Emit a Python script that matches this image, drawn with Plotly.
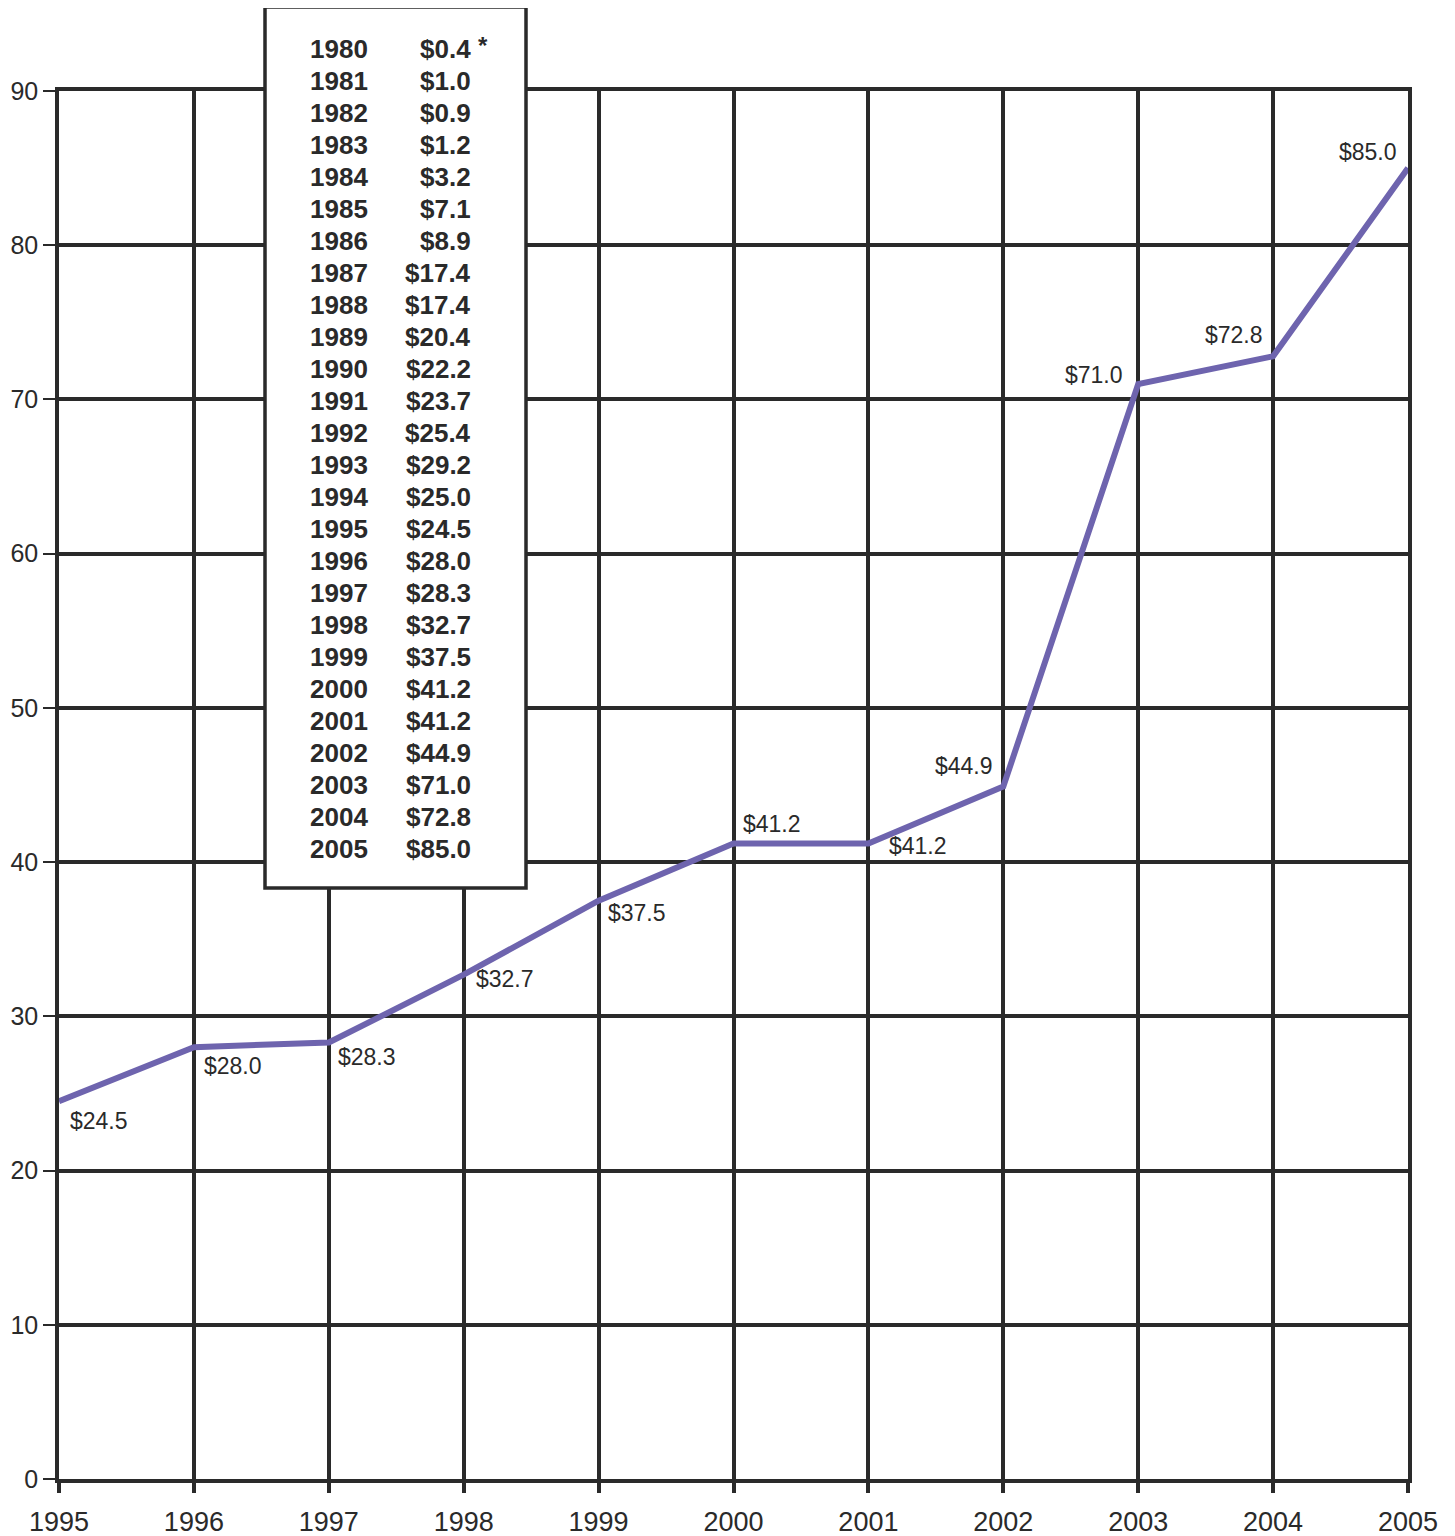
import plotly.graph_objects as go

# ---- data ----
years = [1995, 1996, 1997, 1998, 1999, 2000, 2001, 2002, 2003, 2004, 2005]
values = [24.5, 28.0, 28.3, 32.7, 37.5, 41.2, 41.2, 44.9, 71.0, 72.8, 85.0]
value_labels = ["$24.5", "$28.0", "$28.3", "$32.7", "$37.5", "$41.2", "$41.2",
                "$44.9", "$71.0", "$72.8", "$85.0"]
table_years = [str(y) for y in range(1980, 2006)]
table_values = ["$0.4", "$1.0", "$0.9", "$1.2", "$3.2", "$7.1", "$8.9", "$17.4",
                "$17.4", "$20.4", "$22.2", "$23.7", "$25.4", "$29.2", "$25.0",
                "$24.5", "$28.0", "$28.3", "$32.7", "$37.5", "$41.2", "$41.2",
                "$44.9", "$71.0", "$72.8", "$85.0"]
y_ticks = [0, 10, 20, 30, 40, 50, 60, 70, 80, 90]

# ---- layout geometry (page pixels; the page body adds an 8px offset) ----
OFF = 8
W, H = 1455 - OFF, 1536 - OFF
L, R, T, B = 59 - OFF, 1408 - OFF, 91 - OFF, 1479 - OFF
PW, PH = R - L, B - T


def px(x):
    return (x - OFF - L) / PW


def py(y):
    return (B - (y - OFF)) / PH


INK = "#2a2a2a"
FONT = "Liberation Sans, Arial, Helvetica, sans-serif"

fig = go.Figure()
fig.add_trace(go.Scatter(x=years, y=values, mode="lines",
                         line=dict(color="#6e64ae", width=6),
                         hoverinfo="x+y", showlegend=False))

# label placements: (xanchor, xshift, yshift)
label_pos = [("left", 9, -20), ("left", 8, -19), ("left", 7, -14), ("left", 10, -4),
             ("left", 7, -12), ("left", 7, 20), ("left", 19, -2), ("right", -8, 21),
             ("right", -13, 9), ("right", -8, 21), ("right", -9, 16)]
annotations = []
for xv, yv, txt, (xa, xs, ys) in zip(years, values, value_labels, label_pos):
    annotations.append(dict(x=xv, y=yv, xref="x", yref="y", text=txt, showarrow=False,
                            xanchor=xa, yanchor="middle", xshift=xs, yshift=ys,
                            font=dict(family=FONT, size=23, color=INK)))

# table box
for i, (ty, tv) in enumerate(zip(table_years, table_values)):
    yc = 49 + 32 * i
    annotations.append(dict(x=px(308), y=py(yc), xref="paper", yref="paper", text="<b>%s</b>" % ty,
                            showarrow=False, xanchor="left", yanchor="middle",
                            font=dict(family=FONT, size=26, color=INK)))
    annotations.append(dict(x=px(473), y=py(yc), xref="paper", yref="paper", text="<b>%s</b>" % tv,
                            showarrow=False, xanchor="right", yanchor="middle",
                            font=dict(family=FONT, size=26, color=INK)))
annotations.append(dict(x=px(476), y=py(46), xref="paper", yref="paper", text="<b>*</b>",
                        showarrow=False, xanchor="left", yanchor="middle",
                        font=dict(family=FONT, size=24, color=INK)))

shapes = [dict(type="rect", xref="paper", yref="paper",
               x0=px(265), x1=px(526), y0=py(888), y1=py(7),
               line=dict(color=INK, width=3.5), fillcolor="white", layer="above")]

fig.update_layout(
    width=W, height=H,
    margin=dict(l=L, r=W - R, t=T, b=H - B, autoexpand=False),
    paper_bgcolor="white", plot_bgcolor="white",
    showlegend=False,
    annotations=annotations, shapes=shapes,
    xaxis=dict(range=[1995, 2005], tickmode="array", tickvals=years,
               ticktext=[str(y) for y in years],
               showgrid=True, gridcolor=INK, gridwidth=3.5,
               showline=True, linecolor=INK, linewidth=3.5, mirror=True,
               ticks="outside", ticklen=10, tickwidth=3.5, tickcolor=INK,
               tickfont=dict(family=FONT, size=27, color=INK),
               ticklabelstandoff=6, zeroline=False),
    yaxis=dict(range=[0, 90], tickmode="array", tickvals=y_ticks,
               showgrid=True, gridcolor=INK, gridwidth=3.5,
               showline=True, linecolor=INK, linewidth=3.5, mirror=True,
               ticks="outside", ticklen=12, tickwidth=2, tickcolor=INK,
               tickfont=dict(family=FONT, size=25, color=INK),
               ticklabelstandoff=0, zeroline=False),
)

fig.write_html("out.html")
